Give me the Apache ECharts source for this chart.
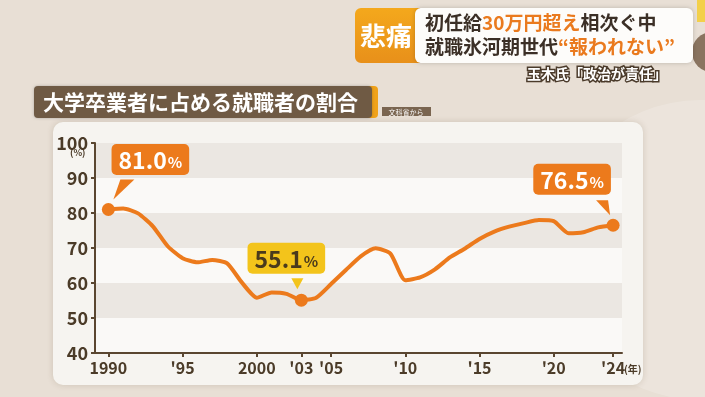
<!DOCTYPE html>
<html>
<head>
<meta charset="utf-8">
<script src="https://cdn.jsdelivr.net/npm/echarts@6/dist/echarts.min.js"></script>
<style>
  html, body { margin: 0; padding: 0; background: #e8dfd5; }
  #chart { width: 705px; height: 397px; }
</style>
</head>
<body>
<div id="chart"></div>
<script>
// 大学卒業者に占める就職者の割合 (文科省)
const years = [1990, 1991, 1992, 1993, 1994, 1995, 1996, 1997, 1998, 1999,
  2000, 2001, 2002, 2003, 2004, 2005, 2006, 2007, 2008, 2009,
  2010, 2011, 2012, 2013, 2014, 2015, 2016, 2017, 2018, 2019,
  2020, 2021, 2022, 2023, 2024];
const rates = [81.0, 81.3, 79.9, 76.2, 70.5, 67.1, 65.9, 66.6, 65.6, 60.1,
  55.8, 57.3, 56.9, 55.1, 55.8, 59.7, 63.7, 67.6, 69.9, 68.4,
  60.8, 61.6, 63.9, 67.3, 69.8, 72.6, 74.7, 76.1, 77.1, 78.0,
  77.7, 74.2, 74.5, 75.9, 76.5];
const tickYears = [1990, 1995, 2000, 2003, 2005, 2010, 2015, 2020, 2024];
const tickLabels = ['1990', "'95", '2000', "'03", "'05", "'10", "'15", "'20", "'24"];
// 吹き出しを付ける年
const calloutYears = [1990, 2003, 2024];

const FONT = '"Noto Sans CJK JP", "Noto Sans", sans-serif';
const ORANGE = '#ec7a1c';
const YELLOW = '#f3c41b';
const BROWN = '#4b3b28';

let myChart = echarts.init(document.getElementById('chart'));

// 吹き出しの見た目（位置は点からのずれ）
const calloutStyle = {
  1990: { bg: ORANGE, fg: '#fff', offset: [42, -28] },
  2003: { bg: YELLOW, fg: '#4a3a1c', offset: [-15, -20] },
  2024: { bg: ORANGE, fg: '#fff', offset: [-41, -24] }
};

const lineData = years.map(function (y, i) {
  const item = { value: [y, rates[i]] };
  if (calloutYears.indexOf(y) >= 0) {
    const s = calloutStyle[y];
    item.label = {
      show: true,
      position: 'top',
      distance: 0,
      offset: s.offset,
      backgroundColor: s.bg,
      borderRadius: 5,
      padding: [3, 7, 1, 7],
      formatter: '{v|' + rates[i].toFixed(1) + '}{p|%}',
      rich: {
        v: { fontFamily: FONT, fontSize: 23, fontWeight: 'bold', color: s.fg, lineHeight: 27 },
        p: { fontFamily: FONT, fontSize: 15, fontWeight: 'bold', color: s.fg, lineHeight: 27, padding: [4, 0, 0, 1] }
      }
    };
  }
  return item;
});

const option = {
  backgroundColor: '#e8dfd5',
  animation: false,
  grid: { left: 95, right: 83, top: 143, bottom: 44 },
  xAxis: {
    type: 'value',
    min: 1989.1,
    max: 2024.6,
    splitLine: { show: false },
    axisLine: { show: true, onZero: false, lineStyle: { color: '#5a4630', width: 2 } },
    axisTick: { show: true, customValues: tickYears, length: 4, lineStyle: { color: '#5a4630', width: 2 } },
    axisLabel: {
      customValues: tickYears,
      margin: 7,
      color: BROWN,
      fontFamily: FONT,
      fontSize: 16,
      fontWeight: 'bold',
      formatter: function (v) {
        const k = tickYears.indexOf(Math.round(v));
        return k >= 0 ? tickLabels[k] : '';
      }
    }
  },
  yAxis: {
    type: 'value',
    min: 40,
    max: 100,
    interval: 10,
    axisLine: { show: true, lineStyle: { color: '#5a4630', width: 2 } },
    axisTick: { show: true, length: 4, lineStyle: { color: '#5a4630', width: 2 } },
    axisLabel: { color: BROWN, fontFamily: FONT, fontSize: 18, fontWeight: 'bold', margin: 7 },
    splitLine: { show: false },
    splitArea: { show: true, areaStyle: { color: ['#faf9f7', '#ebe7e2'] } }
  },
  series: [
    {
      name: '就職者の割合',
      type: 'line',
      data: lineData,
      smooth: 0.2,
      symbol: 'circle',
      symbolSize: function (v) {
        return calloutYears.indexOf(v[0]) >= 0 ? 13 : 0;
      },
      itemStyle: { color: ORANGE },
      lineStyle: { color: ORANGE, width: 4 },
      z: 5
    }
  ],
  graphic: [
    // 右側の大きな模様
    { type: 'circle', shape: { cx: 700, cy: 250, r: 150 }, style: { fill: 'rgba(255,255,255,0.18)' }, z: -10 },
    // パネル
    {
      type: 'rect', shape: { x: 53, y: 122, width: 590, height: 263, r: 10 },
      style: { fill: '#f6f4f0', shadowBlur: 6, shadowColor: 'rgba(90,70,40,0.18)' }, z: -5
    },
    // タイトル
    { type: 'rect', shape: { x: 368, y: 86, width: 10, height: 32, r: [0, 4, 4, 0] }, style: { fill: '#f0a21a' }, z: 10 },
    {
      type: 'rect', shape: { x: 34, y: 86, width: 338, height: 32, r: 4 },
      style: { fill: '#6f5a44', shadowBlur: 3, shadowColor: 'rgba(0,0,0,0.25)' }, z: 11
    },
    {
      type: 'text', x: 43, y: 102, z: 12,
      style: { text: '大学卒業者に占める就職者の割合', fill: '#fff', font: 'bold 21px ' + FONT, verticalAlign: 'middle' }
    },
    { type: 'rect', shape: { x: 382, y: 107, width: 49, height: 9 }, style: { fill: '#7a6550' }, z: 10 },
    {
      type: 'text', x: 406, y: 112, z: 11,
      style: { text: '文科省から', fill: '#fff', font: '7px ' + FONT, align: 'center', verticalAlign: 'middle' }
    },
    // 軸の単位
    { type: 'text', x: 70, y: 153, z: 10, style: { text: '(%)', fill: BROWN, font: 'bold 9px ' + FONT, verticalAlign: 'middle' } },
    { type: 'text', x: 624, y: 369, z: 10, style: { text: '(年)', fill: BROWN, font: 'bold 10px ' + FONT, verticalAlign: 'middle' } },
    // 右上のテロップ
    { type: 'rect', shape: { x: 697, y: 0, width: 8, height: 22 }, style: { fill: '#f3d04a' }, z: 10 },
    { type: 'circle', shape: { cx: 712, cy: 52, r: 20 }, style: { fill: '#8a7460' }, z: 10 },
    {
      type: 'rect', shape: { x: 355, y: 8, width: 65, height: 55, r: [6, 0, 0, 6] },
      style: {
        fill: new echarts.graphic.LinearGradient(0, 0, 0, 1, [
          { offset: 0, color: '#f4a81c' }, { offset: 1, color: '#e8901a' }
        ])
      }, z: 10
    },
    {
      type: 'rect', shape: { x: 415, y: 8, width: 278, height: 55, r: 6 },
      style: { fill: '#fdfcfa', shadowBlur: 4, shadowColor: 'rgba(0,0,0,0.2)' }, z: 11
    },
    {
      type: 'text', x: 386, y: 36, z: 12,
      style: { text: '悲痛', fill: '#fff', font: 'bold 26px ' + FONT, align: 'center', verticalAlign: 'middle' }
    },
    {
      type: 'text', x: 425, y: 23, z: 12,
      style: {
        text: '{a|初任給}{b|30万円超え}{a|相次ぐ中}',
        verticalAlign: 'middle',
        rich: {
          a: { fill: '#3b2f26', font: 'bold 19px ' + FONT },
          b: { fill: '#ea7a1e', font: 'bold 19px ' + FONT }
        }
      }
    },
    {
      type: 'text', x: 425, y: 47, z: 12,
      style: {
        text: '{a|就職氷河期世代}{b|“報われない”}',
        verticalAlign: 'middle',
        rich: {
          a: { fill: '#3b2f26', font: 'bold 19px ' + FONT },
          b: { fill: '#ea7a1e', font: 'bold 19px ' + FONT }
        }
      }
    },
    {
      type: 'text', x: 667, y: 74, z: 12,
      style: {
        text: '玉木氏「政治が責任」', fill: '#fff', font: 'bold 14px ' + FONT,
        align: 'right', verticalAlign: 'middle', stroke: '#4a3a2a', lineWidth: 3
      }
    }
  ]
};

myChart.setOption(option);

// 吹き出しのしっぽ（点の位置から計算）
const tails = {
  1990: { color: ORANGE, pts: [[12, -30], [26, -30], [5, -10]] },
  2003: { color: YELLOW, pts: [[-10, -22], [2, -22], [-4, -11]] },
  2024: { color: ORANGE, pts: [[-17, -25], [-5, -25], [-3, -10]] }
};
const tailGraphics = calloutYears.map(function (y) {
  const p = myChart.convertToPixel({ gridIndex: 0 }, [y, rates[years.indexOf(y)]]);
  const t = tails[y];
  return {
    type: 'polygon',
    z: 100,
    shape: { points: t.pts.map(function (d) { return [p[0] + d[0], p[1] + d[1]]; }) },
    style: { fill: t.color }
  };
});
myChart.setOption({ graphic: option.graphic.concat(tailGraphics) });
</script>
</body>
</html>
